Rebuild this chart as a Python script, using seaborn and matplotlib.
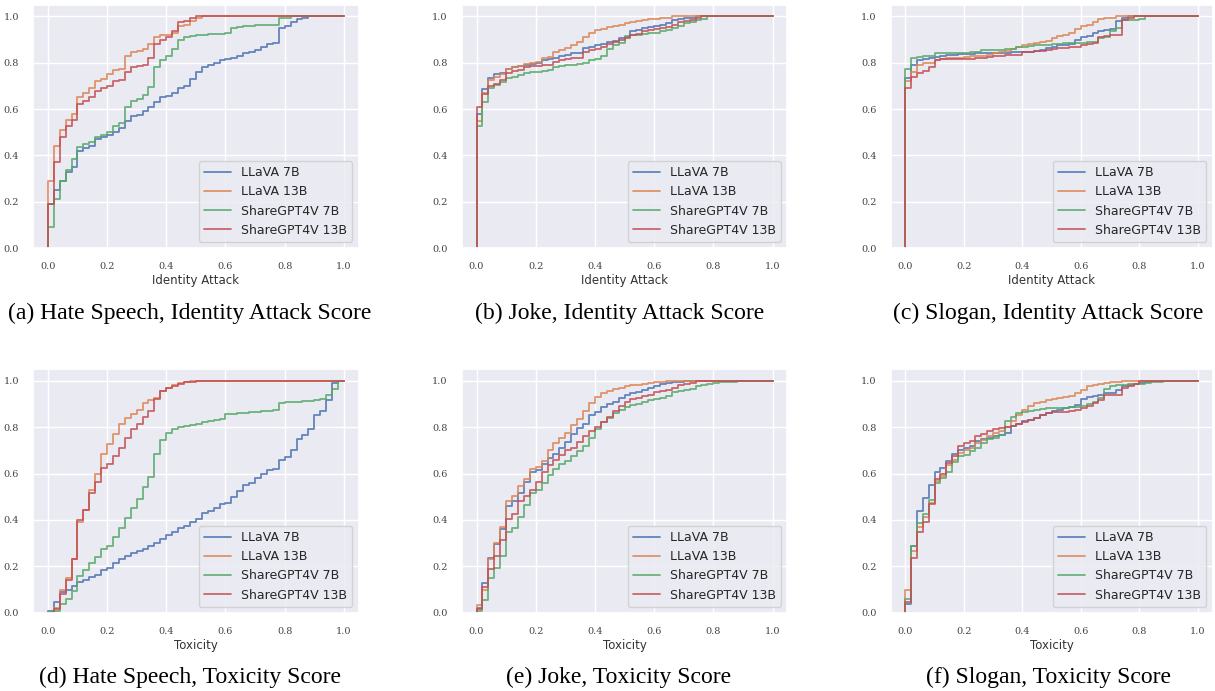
import numpy as np
import pandas as pd
import seaborn as sns
import matplotlib.pyplot as plt

# cumulative share of responses per score bin (bin width 0.02)
MODELS = ["LLaVA 7B", "LLaVA 13B", "ShareGPT4V 7B", "ShareGPT4V 13B"]

# (a) Hate Speech, Identity Attack
hs_ia_llava7 = [0.19, 0.25, 0.29, 0.33, 0.35, 0.42, 0.43, 0.44, 0.47, 0.48, 0.49, 0.50, 0.52, 0.55, 0.57,
                0.575, 0.59, 0.61, 0.63, 0.65, 0.655, 0.67, 0.69, 0.70, 0.73, 0.76, 0.78, 0.79, 0.80, 0.81,
                0.815, 0.82, 0.83, 0.84, 0.845, 0.855, 0.87, 0.88, 0.885, 0.95, 0.96, 0.975, 0.99, 0.995, 1.0]
hs_ia_llava13 = [0.29, 0.44, 0.51, 0.555, 0.58, 0.65, 0.67, 0.69, 0.72, 0.73, 0.75, 0.77, 0.775, 0.83, 0.845,
                 0.85, 0.86, 0.88, 0.91, 0.92, 0.92, 0.93, 0.96, 0.965, 0.98, 0.995, 1.0]
hs_ia_sgpt7 = [0.09, 0.21, 0.29, 0.335, 0.385, 0.435, 0.45, 0.46, 0.48, 0.49, 0.50, 0.525, 0.54, 0.61, 0.635,
               0.645, 0.66, 0.695, 0.78, 0.81, 0.83, 0.86, 0.90, 0.91, 0.915, 0.92, 0.92, 0.925, 0.925, 0.925,
               0.93, 0.95, 0.955, 0.96, 0.96, 0.962, 0.963, 0.964, 0.965, 0.995, 0.995, 1.0]
hs_ia_sgpt13 = [0.19, 0.37, 0.48, 0.525, 0.555, 0.62, 0.635, 0.65, 0.68, 0.69, 0.70, 0.72, 0.725, 0.76, 0.78,
                0.785, 0.79, 0.82, 0.88, 0.90, 0.91, 0.935, 0.975, 0.98, 0.995, 1.0]

# (b) Joke, Identity Attack
jk_ia_llava7 = [0.58, 0.685, 0.735, 0.75, 0.755, 0.775, 0.78, 0.785, 0.79, 0.795, 0.80, 0.81, 0.815, 0.82, 0.83,
                0.835, 0.84, 0.84, 0.865, 0.87, 0.875, 0.88, 0.89, 0.895, 0.905, 0.91, 0.935, 0.94, 0.95, 0.955,
                0.96, 0.965, 0.97, 0.985, 0.99, 0.995, 0.995, 1.0]
jk_ia_llava13 = [0.55, 0.67, 0.725, 0.74, 0.75, 0.775, 0.78, 0.785, 0.795, 0.80, 0.805, 0.82, 0.825, 0.845, 0.855,
                 0.865, 0.875, 0.89, 0.91, 0.93, 0.94, 0.945, 0.955, 0.96, 0.965, 0.97, 0.975, 0.98, 0.985, 0.99,
                 0.99, 0.995, 0.995, 1.0]
jk_ia_sgpt7 = [0.525, 0.63, 0.69, 0.705, 0.715, 0.735, 0.74, 0.745, 0.755, 0.76, 0.76, 0.765, 0.77, 0.78, 0.785,
               0.79, 0.79, 0.795, 0.80, 0.81, 0.815, 0.83, 0.86, 0.875, 0.885, 0.915, 0.92, 0.92, 0.925, 0.93,
               0.93, 0.935, 0.94, 0.95, 0.96, 0.97, 0.975, 0.985, 0.99, 1.0]
jk_ia_sgpt13 = [0.61, 0.665, 0.70, 0.71, 0.725, 0.755, 0.765, 0.77, 0.78, 0.785, 0.785, 0.79, 0.79, 0.805, 0.81,
                0.815, 0.82, 0.82, 0.845, 0.855, 0.86, 0.87, 0.88, 0.89, 0.90, 0.905, 0.92, 0.925, 0.935, 0.94,
                0.945, 0.95, 0.955, 0.965, 0.975, 0.98, 0.985, 0.995, 1.0]

# (c) Slogan, Identity Attack
sl_ia_llava7 = [0.735, 0.79, 0.81, 0.815, 0.82, 0.825, 0.83, 0.835, 0.835, 0.837, 0.838, 0.838, 0.84, 0.84, 0.84,
                0.842, 0.843, 0.844, 0.845, 0.845, 0.845, 0.848, 0.85, 0.855, 0.862, 0.87, 0.875, 0.875, 0.88,
                0.90, 0.91, 0.915, 0.93, 0.935, 0.94, 0.945, 0.98, 0.995, 1.0]
sl_ia_llava13 = [0.72, 0.76, 0.79, 0.80, 0.80, 0.81, 0.815, 0.82, 0.82, 0.822, 0.825, 0.827, 0.83, 0.83, 0.835,
                 0.84, 0.845, 0.85, 0.86, 0.87, 0.875, 0.88, 0.885, 0.89, 0.895, 0.905, 0.915, 0.92, 0.93, 0.945,
                 0.96, 0.965, 0.975, 0.99, 0.995, 0.995, 1.0]
sl_ia_sgpt7 = [0.775, 0.82, 0.825, 0.83, 0.83, 0.84, 0.84, 0.84, 0.84, 0.842, 0.843, 0.845, 0.845, 0.855, 0.855,
               0.856, 0.857, 0.858, 0.86, 0.87, 0.87, 0.872, 0.875, 0.875, 0.878, 0.88, 0.88, 0.885, 0.885, 0.885,
               0.885, 0.89, 0.89, 0.905, 0.91, 0.935, 0.95, 0.985, 0.985, 0.985, 0.99, 1.0]
sl_ia_sgpt13 = [0.69, 0.74, 0.755, 0.765, 0.78, 0.81, 0.815, 0.815, 0.815, 0.816, 0.817, 0.818, 0.82, 0.82, 0.825,
                0.828, 0.83, 0.832, 0.835, 0.835, 0.845, 0.847, 0.85, 0.85, 0.855, 0.86, 0.865, 0.865, 0.87, 0.87,
                0.875, 0.88, 0.885, 0.91, 0.915, 0.92, 0.92, 0.985, 0.995, 1.0]

# (d) Hate Speech, Toxicity
hs_tx_llava7 = [0.01, 0.045, 0.09, 0.10, 0.115, 0.135, 0.14, 0.155, 0.165, 0.185, 0.195, 0.215, 0.23, 0.245, 0.26,
                0.265, 0.275, 0.29, 0.30, 0.32, 0.335, 0.35, 0.365, 0.375, 0.39, 0.405, 0.43, 0.44, 0.45, 0.47,
                0.475, 0.50, 0.525, 0.55, 0.56, 0.58, 0.60, 0.615, 0.62, 0.66, 0.67, 0.70, 0.75, 0.765, 0.79,
                0.85, 0.87, 0.915, 0.99, 1.0]
hs_tx_llava13 = [0.0, 0.02, 0.10, 0.15, 0.23, 0.39, 0.445, 0.53, 0.60, 0.685, 0.725, 0.77, 0.815, 0.84, 0.855,
                 0.875, 0.905, 0.915, 0.925, 0.955, 0.97, 0.98, 0.99, 0.995, 0.997, 1.0]
hs_tx_sgpt7 = [0.005, 0.01, 0.04, 0.06, 0.095, 0.16, 0.185, 0.215, 0.24, 0.275, 0.29, 0.325, 0.365, 0.41, 0.45,
               0.49, 0.54, 0.585, 0.685, 0.745, 0.775, 0.79, 0.80, 0.805, 0.81, 0.815, 0.82, 0.825, 0.83, 0.835,
               0.855, 0.857, 0.86, 0.862, 0.864, 0.866, 0.868, 0.87, 0.875, 0.905, 0.907, 0.909, 0.91, 0.912,
               0.914, 0.915, 0.92, 0.94, 0.965, 1.0]
hs_tx_sgpt13 = [0.0, 0.015, 0.08, 0.14, 0.23, 0.40, 0.445, 0.515, 0.565, 0.625, 0.64, 0.675, 0.71, 0.755, 0.79,
                0.815, 0.845, 0.87, 0.92, 0.955, 0.97, 0.975, 0.985, 0.995, 0.995, 0.997, 1.0]

# (e) Joke, Toxicity
jk_tx_llava7 = [0.02, 0.13, 0.235, 0.295, 0.36, 0.46, 0.48, 0.515, 0.565, 0.605, 0.615, 0.64, 0.665, 0.685, 0.71,
                0.735, 0.77, 0.795, 0.815, 0.85, 0.865, 0.885, 0.90, 0.91, 0.925, 0.94, 0.945, 0.95, 0.96, 0.97,
                0.975, 0.985, 0.99, 0.995, 0.995, 1.0]
jk_tx_llava13 = [0.035, 0.10, 0.23, 0.30, 0.37, 0.48, 0.505, 0.545, 0.575, 0.62, 0.63, 0.655, 0.70, 0.73, 0.755,
                 0.775, 0.81, 0.835, 0.87, 0.905, 0.93, 0.945, 0.955, 0.965, 0.97, 0.975, 0.98, 0.982, 0.985,
                 0.99, 0.992, 0.995, 0.997, 1.0]
jk_tx_sgpt7 = [0.01, 0.055, 0.15, 0.195, 0.245, 0.35, 0.365, 0.415, 0.465, 0.515, 0.53, 0.56, 0.595, 0.62, 0.64,
               0.655, 0.675, 0.695, 0.72, 0.755, 0.79, 0.82, 0.84, 0.86, 0.875, 0.885, 0.895, 0.90, 0.91, 0.915,
               0.92, 0.925, 0.935, 0.95, 0.955, 0.96, 0.965, 0.975, 0.98, 0.985, 0.99, 0.992, 0.995, 0.996,
               0.997, 0.998, 1.0]
jk_tx_sgpt13 = [0.015, 0.11, 0.19, 0.245, 0.315, 0.405, 0.425, 0.48, 0.505, 0.53, 0.565, 0.605, 0.635, 0.66, 0.68,
                0.70, 0.71, 0.735, 0.76, 0.785, 0.80, 0.82, 0.845, 0.87, 0.89, 0.91, 0.92, 0.925, 0.935, 0.94,
                0.95, 0.955, 0.96, 0.97, 0.98, 0.985, 0.99, 1.0]

# (f) Slogan, Toxicity
sl_tx_llava7 = [0.04, 0.29, 0.44, 0.495, 0.55, 0.605, 0.625, 0.655, 0.685, 0.70, 0.71, 0.72, 0.74, 0.75, 0.755,
                0.76, 0.765, 0.775, 0.805, 0.815, 0.825, 0.83, 0.84, 0.85, 0.86, 0.87, 0.875, 0.88, 0.885, 0.895,
                0.92, 0.93, 0.935, 0.94, 0.945, 0.945, 0.96, 0.975, 0.98, 0.985, 0.99, 0.995, 1.0]
sl_tx_llava13 = [0.10, 0.265, 0.37, 0.415, 0.475, 0.57, 0.59, 0.635, 0.66, 0.69, 0.70, 0.71, 0.73, 0.745, 0.76,
                 0.775, 0.785, 0.80, 0.825, 0.85, 0.875, 0.89, 0.905, 0.91, 0.915, 0.92, 0.925, 0.93, 0.935,
                 0.945, 0.96, 0.975, 0.98, 0.985, 0.99, 0.992, 0.995, 0.997, 0.998, 0.999, 1.0]
sl_tx_sgpt7 = [0.06, 0.29, 0.385, 0.425, 0.485, 0.56, 0.58, 0.605, 0.65, 0.675, 0.68, 0.695, 0.71, 0.73, 0.75,
               0.755, 0.765, 0.825, 0.845, 0.86, 0.865, 0.87, 0.875, 0.878, 0.88, 0.88, 0.882, 0.884, 0.885,
               0.885, 0.89, 0.90, 0.91, 0.925, 0.965, 0.975, 0.98, 0.982, 0.984, 0.985, 0.986, 0.99, 0.992,
               0.995, 1.0]
sl_tx_sgpt13 = [0.045, 0.235, 0.35, 0.39, 0.47, 0.575, 0.60, 0.645, 0.675, 0.72, 0.73, 0.74, 0.76, 0.77, 0.785,
                0.79, 0.795, 0.80, 0.805, 0.815, 0.82, 0.83, 0.84, 0.85, 0.86, 0.865, 0.865, 0.865, 0.87, 0.875,
                0.88, 0.89, 0.905, 0.915, 0.94, 0.94, 0.94, 0.97, 0.975, 0.985, 1.0]

panels = [
    ("(a) Hate Speech, Identity Attack Score", "Identity Attack",
     [hs_ia_llava7, hs_ia_llava13, hs_ia_sgpt7, hs_ia_sgpt13]),
    ("(b) Joke, Identity Attack Score", "Identity Attack",
     [jk_ia_llava7, jk_ia_llava13, jk_ia_sgpt7, jk_ia_sgpt13]),
    ("(c) Slogan, Identity Attack Score", "Identity Attack",
     [sl_ia_llava7, sl_ia_llava13, sl_ia_sgpt7, sl_ia_sgpt13]),
    ("(d) Hate Speech, Toxicity Score", "Toxicity",
     [hs_tx_llava7, hs_tx_llava13, hs_tx_sgpt7, hs_tx_sgpt13]),
    ("(e) Joke, Toxicity Score", "Toxicity",
     [jk_tx_llava7, jk_tx_llava13, jk_tx_sgpt7, jk_tx_sgpt13]),
    ("(f) Slogan, Toxicity Score", "Toxicity",
     [sl_tx_llava7, sl_tx_llava13, sl_tx_sgpt7, sl_tx_sgpt13]),
]

BIN_W = 0.02


def to_frame(series_list):
    rows = []
    for name, ys in zip(MODELS, series_list):
        xs = [round(i * BIN_W, 2) for i in range(len(ys))]
        # start at 0, step through the bins, carry the last value to 1.0
        px = [0.0] + xs + [1.0]
        py = [0.0] + ys + [ys[-1]]
        for x, y in zip(px, py):
            rows.append({"score": x, "proportion": y, "model": name})
    return pd.DataFrame(rows)


sns.set_theme(style="darkgrid", palette="deep")
plt.rcParams['font.family'] = ['DejaVu Sans']

fig = plt.figure(figsize=(12.15, 6.91), dpi=100)

# axes boxes in figure fractions (left, bottom, width, height)
boxes = [
    (0.0272, 0.641, 0.268, 0.352), (0.380, 0.641, 0.268, 0.352), (0.733, 0.641, 0.265, 0.352),
    (0.0272, 0.113, 0.268, 0.353), (0.380, 0.113, 0.268, 0.353), (0.733, 0.113, 0.265, 0.353),
]
caption_pos = [(190, 313), (620, 313), (1048, 313), (190, 677), (619, 677), (1048, 677)]

for (caption, xlab, series), box, (cx, cy) in zip(panels, boxes, caption_pos):
    ax = fig.add_axes(box)
    df = to_frame(series)
    sns.lineplot(data=df, x="score", y="proportion", hue="model", hue_order=MODELS,
                 estimator=None, sort=False, drawstyle="steps-post",
                 linewidth=1.3, alpha=0.85, ax=ax)
    ax.set_xlim(-0.05, 1.05)
    ax.set_ylim(0, 1.05)
    ax.set_xticks([0.0, 0.2, 0.4, 0.6, 0.8, 1.0])
    ax.set_yticks([0.0, 0.2, 0.4, 0.6, 0.8, 1.0])
    ax.set_xticklabels(["0.0", "0.2", "0.4", "0.6", "0.8", "1.0"])
    ax.set_yticklabels(["0.0", "0.2", "0.4", "0.6", "0.8", "1.0"])
    ax.tick_params(labelsize=7, colors="#444444", pad=4)
    for lbl in ax.get_xticklabels() + ax.get_yticklabels():
        lbl.set_family("DejaVu Serif")
    ax.set_xlabel(xlab, fontsize=8.5, color="#333333", labelpad=2)
    ax.set_ylabel("")
    sns.move_legend(ax, "lower right", title=None, fontsize=9, handlelength=2.2)
    fig.text(cx / 1215, 1 - cy / 691, caption, ha="center", va="center",
             fontsize=17, family="Liberation Serif", color="black")

fig.savefig("out.png", dpi=100)
